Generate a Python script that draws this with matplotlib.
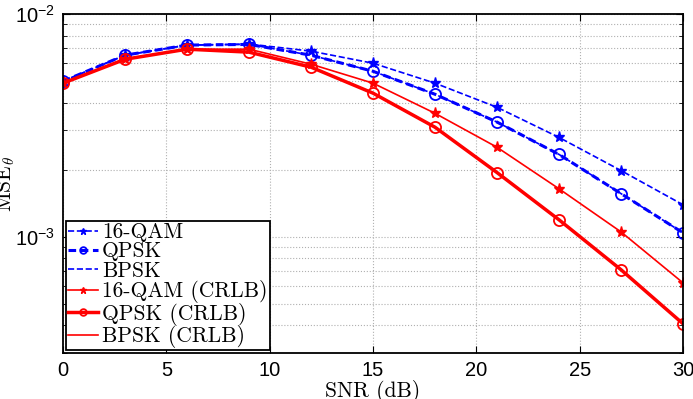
import matplotlib
matplotlib.use("Agg")
import matplotlib.pyplot as plt
import numpy as np

snr = [0, 3, 6, 9, 12, 15, 18, 21, 24, 27, 30]
qam16 = [4.99e-3, 6.53e-3, 7.25e-3, 7.33e-3, 6.81e-3, 6.01e-3, 4.89e-3, 3.81e-3, 2.79e-3, 1.98e-3, 1.39e-3]
qpsk = [4.99e-3, 6.53e-3, 7.25e-3, 7.30e-3, 6.53e-3, 5.53e-3, 4.36e-3, 3.27e-3, 2.34e-3, 1.56e-3, 1.04e-3]
bpsk = qpsk
qam16_crlb = [4.89e-3, 6.26e-3, 6.95e-3, 6.95e-3, 5.95e-3, 4.89e-3, 3.58e-3, 2.52e-3, 1.64e-3, 1.05e-3, 6.2e-4]
qpsk_crlb = [4.89e-3, 6.26e-3, 6.95e-3, 6.74e-3, 5.77e-3, 4.41e-3, 3.10e-3, 1.94e-3, 1.19e-3, 7.1e-4, 4.06e-4]
bpsk_crlb = qpsk_crlb

xticks = [0, 5, 10, 15, 20, 25, 30]
ytick_vals = [1e-3, 1e-2]
ytick_labels = [r"$10^{-3}$", r"$10^{-2}$"]

plt.rcParams["mathtext.fontset"] = "custom"
plt.rcParams["mathtext.rm"] = "Liberation Sans"
plt.rcParams["mathtext.it"] = "Liberation Sans:italic"

fig = plt.figure(figsize=(6.93, 3.99), dpi=100)
ax = fig.add_axes([63/693, 46/399, 620/693, 339/399])

blue = (0, 0, 1)
red = (1, 0, 0)
ax.semilogy(snr, qam16, color=blue, ls="--", lw=1.2, marker="*", ms=8, label="16-QAM")
ax.semilogy(snr, qpsk, color=blue, ls=(0, (2.5, 1.5)), lw=2.2, marker="o", ms=8, mfc="none", mew=1.3, label="QPSK")
ax.semilogy(snr, bpsk, color=blue, ls="--", lw=1.2, label="BPSK")
ax.semilogy(snr, qam16_crlb, color=red, ls="-", lw=1.2, marker="*", ms=8, label="16-QAM (CRLB)")
ax.semilogy(snr, qpsk_crlb, color=red, ls="-", lw=2.5, marker="o", ms=8, mfc="none", mew=1.3, label="QPSK (CRLB)")
ax.semilogy(snr, bpsk_crlb, color=red, ls="-", lw=1.2, label="BPSK (CRLB)")

ax.set_xlim(0, 30)
ax.set_ylim(3e-4, 1e-2)
ax.set_xticks(xticks)
ax.set_yticks(ytick_vals)
ax.set_yticklabels(ytick_labels)
ax.tick_params(axis="both", which="both", direction="in", top=True, right=True, labelsize=14.5)
ax.tick_params(axis="both", which="major", length=5, pad=6)
ax.tick_params(axis="y", which="minor", length=3)
for lab in ax.get_xticklabels():
    lab.set_family("Liberation Sans")
ax.grid(True, which="major", ls=":", color="#b0b0b0", lw=0.8)
ax.grid(True, which="minor", axis="y", ls=":", color="#b0b0b0", lw=0.8)
for s in ax.spines.values():
    s.set_linewidth(1.3)

ax.set_xlabel("SNR (dB)", family="cmr10", fontsize=15.5, labelpad=0)
ax.set_ylabel(r"MSE$_\theta$", fontsize=15.5, math_fontfamily="cm", family="cmr10", labelpad=-2)

leg = ax.legend(loc="lower left", prop={"family": "cmr10", "size": 15.5},
                borderaxespad=0.12, labelspacing=-0.02, handlelength=1.4, handletextpad=0.2,
                borderpad=0.1, fancybox=False, framealpha=1, edgecolor="black", markerscale=0.6)
leg.get_frame().set_linewidth(1.3)

fig.savefig("out.png", dpi=100)
